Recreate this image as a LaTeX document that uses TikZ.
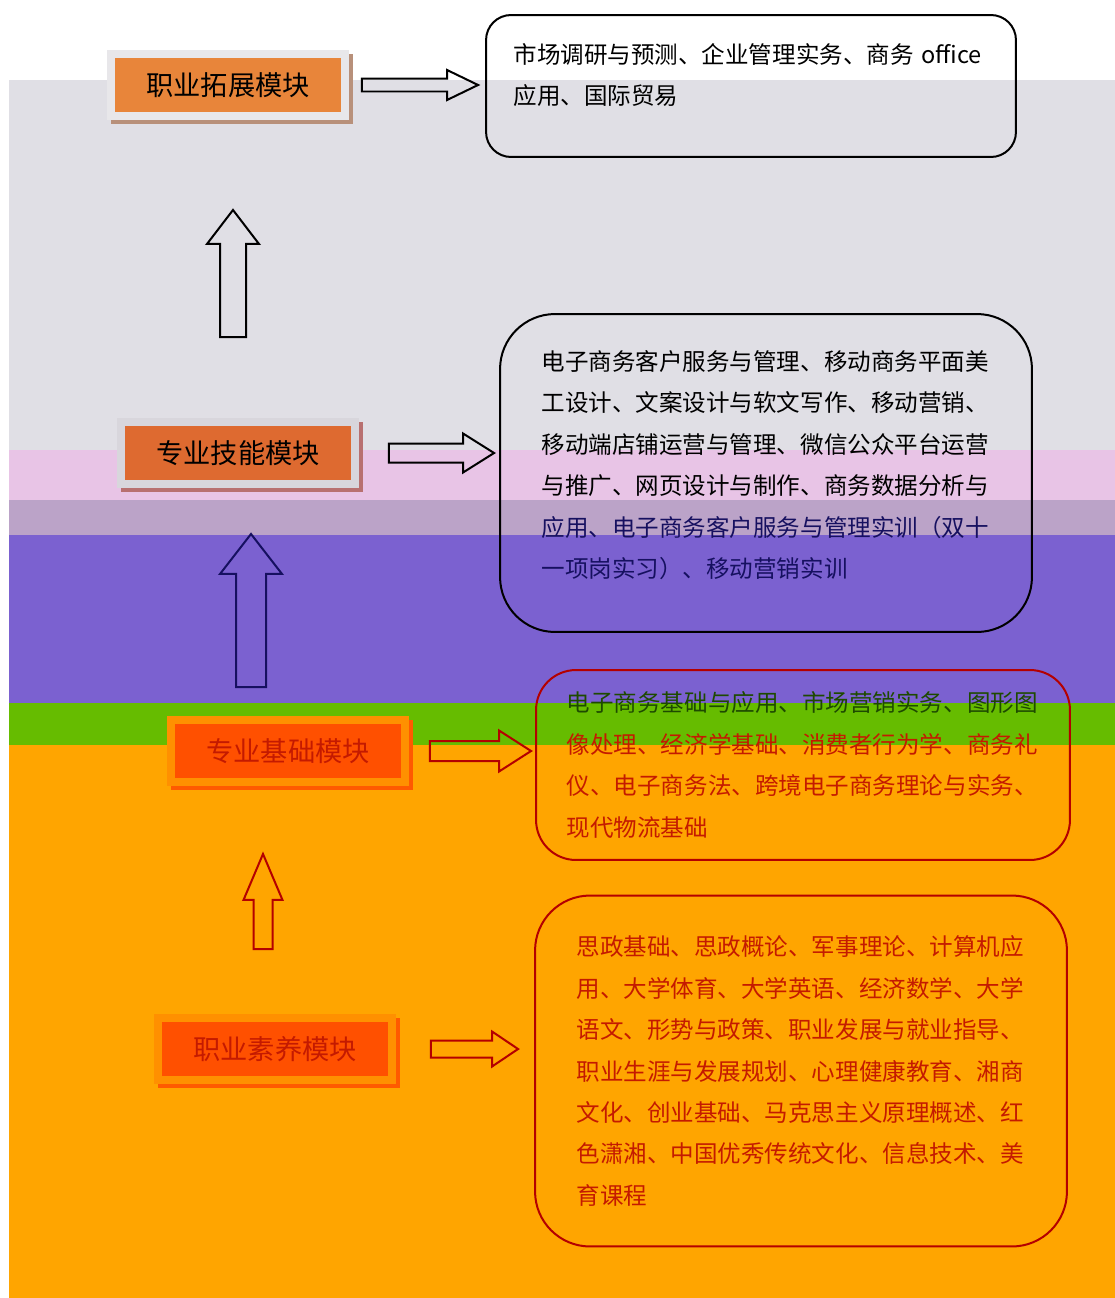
\documentclass[tikz,border=0pt]{standalone}
\usepackage{fontspec}
\newfontfamily\cjk{Noto Sans CJK SC}
\usepackage{tikz}
\usetikzlibrary{calc}
\definecolor{bandgray}{HTML}{E0DFE5}
\definecolor{bandpink}{HTML}{E8C4E6}
\definecolor{bandmauve}{HTML}{BBA3C8}
\definecolor{bandpurple}{HTML}{7B61D0}
\definecolor{bandgreen}{HTML}{66BC00}
\definecolor{bandorange}{HTML}{FFA500}
\definecolor{linered}{HTML}{B40000}
\definecolor{textred}{HTML}{C41A00}
\definecolor{inknavy}{HTML}{161060}
\definecolor{inkgreen}{HTML}{1E4A00}
\definecolor{extfill}{HTML}{E8853A}
\definecolor{extframe}{HTML}{E8E7EA}
\definecolor{extshadow}{HTML}{B8907A}
\definecolor{skillfill}{HTML}{DE6A30}
\definecolor{skillframe}{HTML}{D8D6DC}
\definecolor{skillshadow}{HTML}{B87070}
\definecolor{basefill}{HTML}{FF5000}
\definecolor{baseframe}{HTML}{FF9000}
\definecolor{baseshadow}{HTML}{FF5A00}
\tikzstyle{module}=[rectangle, minimum width=4.68cm, minimum height=1.24cm, line width=0.16cm, inner sep=0pt, font=\cjk\fontsize{15.5pt}{18pt}\selectfont]
\tikzstyle{course}=[rectangle, draw, line width=0.04cm, align=left, font=\cjk\fontsize{13.4pt}{23.6pt}\selectfont]
\tikzstyle{blockarrow}=[line width=0.04cm, line join=miter]
\tikzset{shadowed/.style={preaction={draw=#1, fill=#1, line width=0.16cm, transform canvas={xshift=0.08cm, yshift=-0.08cm}}}}
\newcommand{\modbox}{\node[module]}
\newcommand{\coursebox}{\node[course]}
% right block arrow: colour, from, to, half shaft, half head, head length
\newcommand{\rarrow}[6][black]{%
  \draw[blockarrow, draw=#1] let \p1=(#2), \p2=(#3) in
    (\x1,{\y1+#4}) -- ({\x2-#6},{\y1+#4}) -- ({\x2-#6},{\y1+#5}) -- (\x2,\y1)
    -- ({\x2-#6},{\y1-#5}) -- ({\x2-#6},{\y1-#4}) -- (\x1,{\y1-#4}) -- cycle;}
% up block arrow
\newcommand{\uarrow}[6][black]{%
  \draw[blockarrow, draw=#1] let \p1=(#2), \p2=(#3) in
    ({\x1-#4},\y1) -- ({\x1-#4},{\y2-#6}) -- ({\x1-#5},{\y2-#6}) -- (\x1,\y2)
    -- ({\x1+#5},{\y2-#6}) -- ({\x1+#4},{\y2-#6}) -- ({\x1+#4},\y1) -- cycle;}

\begin{document}
\begin{tikzpicture}[x=0.02cm, y=-0.02cm]
    \useasboundingbox (0,0) rectangle (1115,1298);
    % background bands
    \fill[white] (0,0) rectangle (1115,1298);
    \fill[bandgray] (9,80) rectangle (1115,450);
    \fill[bandpink] (9,450) rectangle (1115,500);
    \fill[bandmauve] (9,500) rectangle (1115,535);
    \fill[bandpurple] (9,535) rectangle (1115,703);
    \fill[bandgreen] (9,703) rectangle (1115,745);
    \fill[bandorange] (9,745) rectangle (1115,1298);

    % modules
    \modbox (mext) at (228,85) [fill=extfill, draw=extframe, shadowed=extshadow] {职业拓展模块};
    \modbox (mskill) at (238,453) [fill=skillfill, draw=skillframe, shadowed=skillshadow] {专业技能模块};
    \modbox (mbase) at (288,751) [fill=basefill, draw=baseframe, shadowed=baseshadow, text=textred] {专业基础模块};
    \modbox (mcore) at (275,1049) [fill=basefill, draw=baseframe, shadowed=baseshadow, text=textred] {职业素养模块};

    % course boxes
    \coursebox (cext) at (751,86) [minimum width=10.6cm, minimum height=2.84cm, rounded corners=0.5cm, text width=9.5cm, text depth=1.3cm] {%
        市场调研与预测、企业管理实务、商务 \mbox{office}\\
        应用、国际贸易};
    \coursebox (cskill) at (766,473) [minimum width=10.64cm, minimum height=6.36cm, rounded corners=1.1cm, text width=8.98cm, text depth=4.5cm] {%
        电子商务客户服务与管理、移动商务平面美\\
        工设计、文案设计与软文写作、移动营销、\\
        移动端店铺运营与管理、微信公众平台运营\\
        与推广、网页设计与制作、商务数据分析与\\
        \textcolor{inknavy}{应用、电子商务客户服务与管理实训（双十}\\
        \textcolor{inknavy}{一项岗实习）、移动营销实训}};
    \coursebox (cbase) at (803,765) [minimum width=10.68cm, minimum height=3.8cm, rounded corners=0.8cm, text width=9.45cm, draw=linered, text=textred] {%
        \textcolor{inkgreen}{电子商务基础与应用、市场营销实务、图形图}\\
        像处理、经济学基础、消费者行为学、商务礼\\
        仪、电子商务法、跨境电子商务理论与实务、\\
        现代物流基础};
    \coursebox (ccore) at (801,1071) [minimum width=10.64cm, minimum height=7.02cm, rounded corners=1.1cm, text width=8.98cm, draw=linered, text=textred] {%
        思政基础、思政概论、军事理论、计算机应\\
        用、大学体育、大学英语、经济数学、大学\\
        语文、形势与政策、职业发展与就业指导、\\
        职业生涯与发展规划、心理健康教育、湘商\\
        文化、创业基础、马克思主义原理概述、红\\
        色潇湘、中国优秀传统文化、信息技术、美\\
        育课程};

    % arrows
    \rarrow{[xshift=0.26cm]mext.east}{[xshift=-0.14cm]cext.west}{0.13cm}{0.3cm}{0.62cm}
    \rarrow{[xshift=0.6cm]mskill.east}{[xshift=-0.1cm]cskill.west}{0.19cm}{0.39cm}{0.62cm}
    \rarrow[linered]{[xshift=0.42cm]mbase.east}{[xshift=-0.08cm]cbase.west}{0.2cm}{0.41cm}{0.64cm}
    \rarrow[linered]{[xshift=0.7cm]mcore.east}{[xshift=-0.32cm]ccore.west}{0.17cm}{0.35cm}{0.52cm}
    \uarrow{[xshift=-0.1cm, yshift=1.62cm]mskill.north}{[xshift=-0.1cm, yshift=-1.8cm]mext.south}{0.26cm}{0.52cm}{0.68cm}
    \uarrow[inknavy]{[xshift=-0.74cm, yshift=0.58cm]mbase.north}{[yshift=-0.92cm]mskill.south}{0.3cm}{0.62cm}{0.8cm}
    \uarrow[linered]{[xshift=-0.24cm, yshift=1.3cm]mcore.north}{[yshift=-1.36cm]mbase.south}{0.19cm}{0.39cm}{0.92cm}
\end{tikzpicture}
\end{document}
